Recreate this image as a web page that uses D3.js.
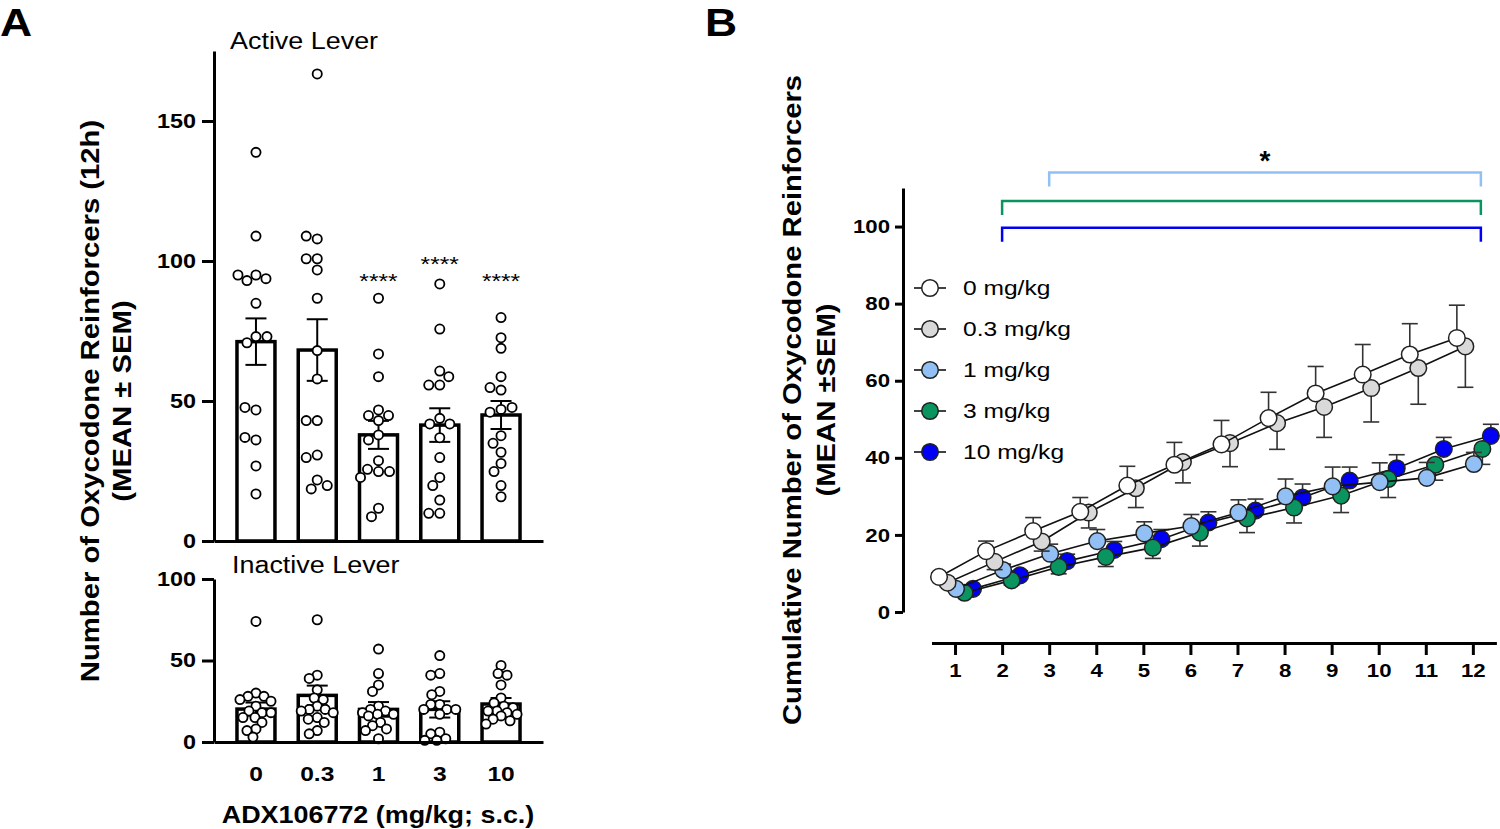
<!DOCTYPE html>
<meta charset="utf-8">
<style>
  body { margin: 0; background: #fff; }
  svg text { font-family: "Liberation Sans", Arial, sans-serif; }
  .axis path, .axis line { stroke: #000; stroke-width: 3px; }
  .axis text { font-weight: bold; fill: #000; }
</style>
<body>
<script src="https://cdn.jsdelivr.net/npm/d3@7"></script>
<script>

// ---------- Panel A data ----------
var doseLabels = ["0", "0.3", "1", "3", "10"];

var activeMean = [71.2, 68.2, 37.9, 41.4, 45.0];
var activeSem  = [8.3, 11.0, 5.0, 6.0, 5.0];
var activeStars = ["", "", "****", "****", "****"];
var activeStarLevel = [0, 0, 95, 101, 95];
var activePoints = [
  [138.8, 108.9, 95, 93, 93.7, 95, 84.9, 73, 70.8, 73, 46.8, 47.7, 36.1, 37, 26.8, 16.8],
  [166.8, 107.9, 108.9, 100.8, 100.8, 96.8, 86.7, 68, 57.9, 43, 43, 30.7, 29.8, 21.8, 18.6, 19.8],
  [86.7, 66.8, 58.7, 46.8, 44.8, 44.8, 43, 37.9, 36.1, 28.7, 24.8, 25.6, 24.8, 22.7, 11.7, 8.7],
  [91.8, 75.7, 60.7, 55.7, 55.7, 58.7, 43.8, 41.8, 41.8, 36.9, 29.8, 22.7, 19.8, 14.6, 9.9, 9.9],
  [79.8, 72.6, 68.8, 58.7, 53.9, 54.8, 47, 46, 47.7, 37.6, 34.9, 31.7, 27.7, 24.8, 19.8, 15.8]
];

var inactiveMean = [20.2, 28.6, 20.0, 20.0, 23.3];
var inactiveSem  = [4.0, 6.0, 4.5, 5.0, 3.7];
var inactivePoints = [
  [74, 30, 28, 28, 26, 25, 22, 19, 18, 18, 15, 15, 12, 8, 7, 3],
  [75, 41, 39, 32, 27, 26, 22, 20, 20, 19, 18, 15, 14, 12, 7, 5],
  [57, 42, 35, 31, 22, 20, 19, 18, 17, 17, 16, 12, 10, 8, 7, 2],
  [53, 42, 41, 31, 29, 23, 23, 20, 20, 20, 17, 6, 5, 2, 1, 1],
  [47, 42, 41, 35, 27, 24, 22, 21, 19, 19, 18, 17, 16, 14, 13, 11]
];

// ---------- Panel B data ----------
var hours = [1, 2, 3, 4, 5, 6, 7, 8, 9, 10, 11, 12];
var seriesNames = ["0 mg/kg", "0.3 mg/kg", "1 mg/kg", "3 mg/kg", "10 mg/kg"];
var seriesColors = ["#ffffff", "#d9d9d9", "#92c0f5", "#0a9460", "#0000f5"];
var errDirection = [1, -1, 1, -1, 1];

var cum0  = [9.1, 15.8, 21.0, 26.0, 32.8, 38.2, 43.5, 50.3, 56.7, 61.6, 66.8, 71.1];
var cum03 = [7.6, 13.0, 18.3, 25.8, 32.1, 38.9, 43.8, 49.0, 53.2, 58.1, 63.3, 68.9];
var cum1  = [6.0, 10.9, 15.1, 18.4, 20.4, 22.3, 25.8, 30.0, 32.6, 33.7, 34.8, 38.4];
var cum3  = [5.0, 8.2, 11.7, 14.3, 16.7, 20.6, 24.3, 27.1, 30.2, 34.5, 38.2, 42.3];
var cum10 = [6.0, 9.5, 13.2, 16.1, 18.9, 23.2, 26.3, 29.7, 34.1, 37.3, 42.3, 45.7];

var sem0  = [1.0, 2.6, 3.5, 3.7, 5.0, 5.8, 6.2, 6.7, 7.0, 7.8, 8.0, 8.5];
var sem03 = [1.0, 2.0, 2.5, 4.0, 5.0, 5.4, 6.1, 6.8, 7.9, 8.8, 9.4, 10.6];
var sem1  = [0.8, 1.5, 2.5, 3.0, 3.0, 3.0, 3.3, 4.5, 5.0, 5.0, 4.0, 3.0];
var sem3  = [0.8, 1.2, 1.8, 2.5, 2.8, 3.5, 3.7, 4.0, 4.4, 4.8, 4.0, 4.0];
var sem10 = [0.8, 1.2, 1.8, 2.2, 2.5, 2.8, 3.0, 3.5, 3.5, 3.5, 3.0, 3.0];

var bracketSeries = ["1 mg/kg", "3 mg/kg", "10 mg/kg"];
var bracketFrom = [3, 2, 2];
var bracketTo = [12, 12, 12];
var bracketLevel = [114, 106.6, 99.7];
var bracketStar = "*";

var svg = d3.select("body").append("svg")
    .attr("width", 1500)
    .attr("height", 829);

// ================= PANEL A =================
var xA = d3.scaleBand()
    .domain(doseLabels)
    .range([214, 543])
    .paddingInner(0.38)
    .paddingOuter(0.375);

var yTop = d3.scaleLinear().domain([0, 175]).range([541, 51]);
var yBot = d3.scaleLinear().domain([0, 100]).range([742, 579]);

// simple beeswarm: smallest horizontal shift without overlapping earlier points,
// limited to maxShift; if nothing fits, take the least crowded spot
function swarm(values, yScale, minDist, maxShift) {
  var placed = [];
  return values.map(function(v) {
    var py = yScale(v), best = null, bestGap = -1;
    for (var k = 0; k <= maxShift; k++) {
      var cands = k === 0 ? [0] : [-k, k];
      for (var c = 0; c < cands.length; c++) {
        var dx = cands[c];
        var gap = d3.min(placed, function(p) { return Math.hypot(p[0] - dx, p[1] - py); });
        if (gap === undefined) gap = Infinity;
        if (gap >= minDist) { best = dx; break; }
        if (gap > bestGap) { bestGap = gap; best = dx; }
      }
      if (best !== null && (bestGap < 0 || d3.min(placed, function(p) { return Math.hypot(p[0] - best, p[1] - py); }) >= minDist)) break;
    }
    placed.push([best, py]);
    return {v: v, dx: best};
  });
}

function drawBarPanel(yScale, means, sems, points, ticks, minDist, maxShift) {
  var g = svg.append("g");

  g.selectAll(".bar")
      .data(means)
    .enter().append("rect")
      .attr("x", function(d, i) { return xA(doseLabels[i]); })
      .attr("width", xA.bandwidth())
      .attr("y", function(d) { return yScale(d); })
      .attr("height", function(d) { return yScale(0) - yScale(d); })
      .attr("fill", "#fff")
      .attr("stroke", "#000")
      .attr("stroke-width", 3.5);

  var cx = function(i) { return xA(doseLabels[i]) + xA.bandwidth() / 2; };

  means.forEach(function(m, i) {
    var lo = yScale(m - sems[i]), hi = yScale(m + sems[i]);
    g.append("line").attr("x1", cx(i)).attr("x2", cx(i))
      .attr("y1", lo).attr("y2", hi)
      .attr("stroke", "#000").attr("stroke-width", 2);
    [lo, hi].forEach(function(yy) {
      g.append("line").attr("x1", cx(i) - 10.5).attr("x2", cx(i) + 10.5)
        .attr("y1", yy).attr("y2", yy)
        .attr("stroke", "#000").attr("stroke-width", 2);
    });
  });

  points.forEach(function(vals, i) {
    g.selectAll(null)
        .data(swarm(vals, yScale, minDist, maxShift))
      .enter().append("circle")
        .attr("cx", function(d) { return cx(i) + d.dx; })
        .attr("cy", function(d) { return yScale(d.v); })
        .attr("r", 4.6)
        .attr("fill", "#fff")
        .attr("stroke", "#000")
        .attr("stroke-width", 1.8);
  });

  g.append("g")
      .attr("class", "axis")
      .attr("transform", "translate(214,0)")
      .call(d3.axisLeft(yScale).tickValues(ticks).tickSize(12).tickSizeOuter(0).tickPadding(6))
      .selectAll("text").style("font-size", "20px");
  return g;
}

drawBarPanel(yTop, activeMean, activeSem, activePoints, [0, 50, 100, 150], 10.6, 30);
drawBarPanel(yBot, inactiveMean, inactiveSem, inactivePoints, [0, 50, 100], 8.5, 16);

// x axes for panel A
svg.append("g")
    .attr("class", "axis")
    .attr("transform", "translate(0,541)")
    .call(d3.axisBottom(xA).tickSize(0).tickSizeOuter(0).tickFormat(""));

svg.append("g")
    .attr("class", "axis")
    .attr("transform", "translate(0,742)")
    .call(d3.axisBottom(xA).tickSize(0).tickSizeOuter(0).tickPadding(24))
    .selectAll("text").style("font-size", "21px");

// significance stars
svg.selectAll(".stars")
    .data(activeStars)
  .enter().append("text")
    .attr("x", function(d, i) { return xA(doseLabels[i]) + xA.bandwidth() / 2; })
    .attr("y", function(d, i) { return yTop(activeStarLevel[i]) + 13; })
    .attr("text-anchor", "middle")
    .style("font-size", "21px")
    .text(function(d) { return d; });

svg.append("text").attr("x", 230).attr("y", 49)
    .style("font-size", "23px").text("Active Lever");
svg.append("text").attr("x", 232).attr("y", 573)
    .style("font-size", "23px").text("Inactive Lever");

svg.append("text")
    .attr("transform", "translate(99,401) rotate(-90)")
    .attr("text-anchor", "middle")
    .style("font-weight", "bold").style("font-size", "25px")
    .text("Number of Oxycodone Reinforcers (12h)");
svg.append("text")
    .attr("transform", "translate(131,401) rotate(-90)")
    .attr("text-anchor", "middle")
    .style("font-weight", "bold").style("font-size", "25px")
    .text("(MEAN \u00b1 SEM)");

svg.append("text").attr("x", 378).attr("y", 823)
    .attr("text-anchor", "middle")
    .style("font-weight", "bold").style("font-size", "23px")
    .text("ADX106772 (mg/kg; s.c.)");

svg.append("text").attr("x", 0).attr("y", 36)
    .style("font-weight", "bold").style("font-size", "38px").text("A");
svg.append("text").attr("x", 705).attr("y", 36)
    .style("font-weight", "bold").style("font-size", "38px").text("B");

// ================= PANEL B =================
var xB = d3.scaleLinear().domain([0.5, 12.5]).range([931.5, 1496.4]);
var yB = d3.scaleLinear().domain([0, 110]).range([612, 188]);
var offset = d3.scalePoint().domain(seriesNames).range([-16, 18]);

var series = [cum0, cum03, cum1, cum3, cum10].map(function(vals, i) {
  var sems = [sem0, sem03, sem1, sem3, sem10][i];
  return {
    name: seriesNames[i],
    color: seriesColors[i],
    dir: errDirection[i],
    pts: hours.map(function(h, j) { return {h: h, v: vals[j], s: sems[j]}; })
  };
});

var px = function(s, d) { return xB(d.h) + offset(s.name); };

var gB = svg.append("g");
// draw last series first so the 0 mg/kg markers sit on top
series.slice().reverse().forEach(function(s) {
  var g = gB.append("g");
  g.selectAll(null)
      .data(s.pts)
    .enter().append("g")
    .each(function(d) {
      var x = px(s, d), y0 = yB(d.v), y1 = yB(d.v + s.dir * d.s);
      d3.select(this).append("line")
        .attr("x1", x).attr("x2", x).attr("y1", y0).attr("y2", y1)
        .attr("stroke", "#333").attr("stroke-width", 1.6);
      d3.select(this).append("line")
        .attr("x1", x - 8).attr("x2", x + 8).attr("y1", y1).attr("y2", y1)
        .attr("stroke", "#333").attr("stroke-width", 1.6);
    });
  g.append("path")
      .datum(s.pts)
      .attr("fill", "none")
      .attr("stroke", "#111")
      .attr("stroke-width", 1.6)
      .attr("d", d3.line()
        .x(function(d) { return px(s, d); })
        .y(function(d) { return yB(d.v); }));
  g.selectAll(null)
      .data(s.pts)
    .enter().append("circle")
      .attr("cx", function(d) { return px(s, d); })
      .attr("cy", function(d) { return yB(d.v); })
      .attr("r", 8.3)
      .attr("fill", s.color)
      .attr("stroke", "#222")
      .attr("stroke-width", 1.5);
});

svg.append("g")
    .attr("class", "axis")
    .attr("transform", "translate(903,0)")
    .call(d3.axisLeft(yB).tickValues([0, 20, 40, 60, 80, 100]).tickSize(8).tickSizeOuter(0).tickPadding(5))
    .selectAll("text").style("font-size", "19px");

svg.append("g")
    .attr("class", "axis")
    .attr("transform", "translate(0,643)")
    .call(d3.axisBottom(xB).tickValues(hours).tickSize(12).tickSizeOuter(0).tickPadding(9).tickFormat(d3.format("d")))
    .selectAll("text").style("font-size", "19px");

// brackets
bracketSeries.forEach(function(name, i) {
  var c = seriesColors[seriesNames.indexOf(name)];
  var x0 = xB(bracketFrom[i]), x1 = xB(bracketTo[i]) + 8, y = yB(bracketLevel[i]);
  svg.append("path")
    .attr("d", "M" + x0 + "," + (y + 14) + "V" + y + "H" + x1 + "V" + (y + 14))
    .attr("fill", "none")
    .attr("stroke", c)
    .attr("stroke-width", 2.5);
});
svg.append("text")
    .attr("x", (xB(3) + xB(12) + 8) / 2)
    .attr("y", 170)
    .attr("text-anchor", "middle")
    .style("font-weight", "bold").style("font-size", "28px")
    .text(bracketStar);

// legend
var leg = svg.append("g");
seriesNames.forEach(function(name, i) {
  var y = 288 + i * 41;
  leg.append("line").attr("x1", 914).attr("x2", 946).attr("y1", y).attr("y2", y)
    .attr("stroke", "#111").attr("stroke-width", 1.6);
  leg.append("circle").attr("cx", 930).attr("cy", y).attr("r", 8.3)
    .attr("fill", seriesColors[i]).attr("stroke", "#222").attr("stroke-width", 1.5);
  leg.append("text").attr("x", 963).attr("y", y).attr("dy", "0.35em")
    .style("font-size", "21px").text(name);
});

svg.append("text")
    .attr("transform", "translate(801,400) rotate(-90)")
    .attr("text-anchor", "middle")
    .style("font-weight", "bold").style("font-size", "25px")
    .text("Cumulative Number of Oxycodone Reinforcers");
svg.append("text")
    .attr("transform", "translate(835,400) rotate(-90)")
    .attr("text-anchor", "middle")
    .style("font-weight", "bold").style("font-size", "25px")
    .text("(MEAN \u00b1SEM)");

// the original typeface runs a bit wider than Liberation Sans: stretch every label
svg.selectAll("text").each(function() {
  var t = d3.select(this);
  if (!t.text() || t.text() === "*") return;
  var w = this.getComputedTextLength();
  t.attr("textLength", w * 1.17).attr("lengthAdjust", "spacingAndGlyphs");
});

</script>
</body>
